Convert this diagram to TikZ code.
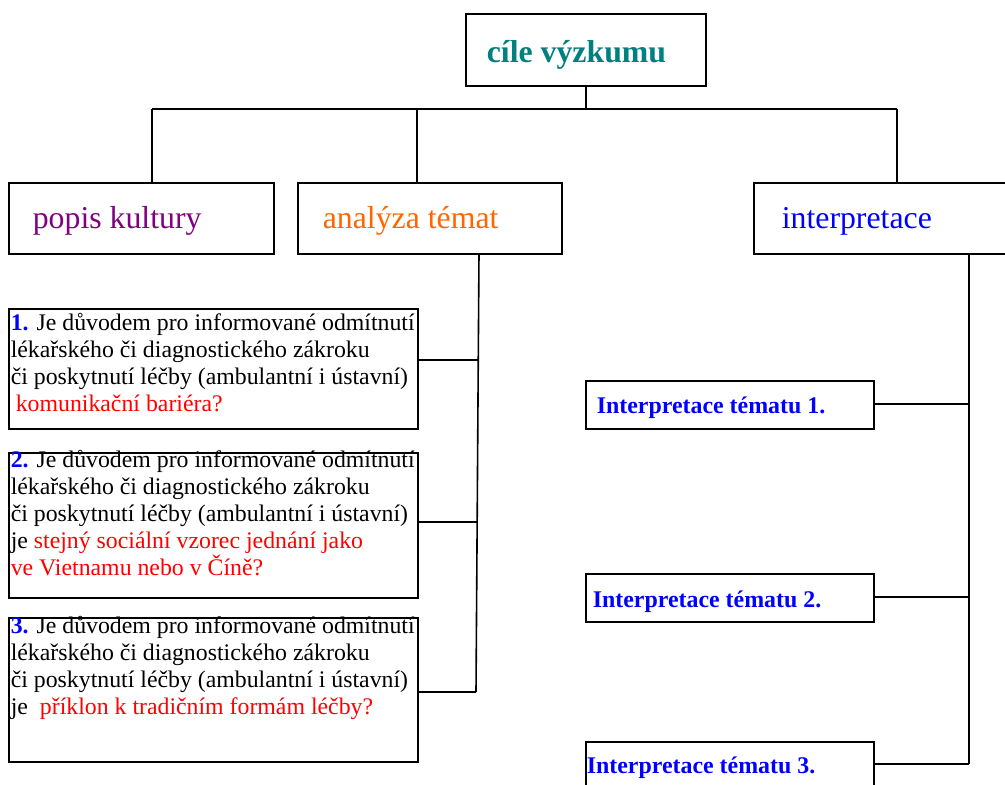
\documentclass[tikz,border=0pt]{standalone}
\usepackage{fontspec}
\setmainfont{Liberation Serif}
\usetikzlibrary{calc,positioning}

\definecolor{goalteal}{RGB}{0,128,128}
\definecolor{popispurple}{RGB}{128,0,128}
\definecolor{temaorange}{RGB}{255,102,0}
\newcommand{\qnum}[1]{\textcolor{blue}{\textbf{#1}}}
\newcommand{\qred}[1]{\textcolor{red}{#1}}

\begin{document}
\begin{tikzpicture}[
    x=1pt,y=-1pt,
    line width=1.6pt,
    box/.style={draw,anchor=north west,inner ysep=0pt,align=flush left},
    goalbox/.style={box,inner xsep=21pt,text width=198pt,text height=49pt,text depth=23pt,
      font=\fontsize{31.8pt}{38pt}\selectfont\bfseries,text=goalteal},
    headbox/.style={box,inner xsep=25pt,text height=46pt,text depth=25pt,
      font=\fontsize{31.8pt}{38pt}\selectfont},
    qbox/.style={box,inner xsep=2pt,text width=405pt,
      font=\fontsize{23.8pt}{26.8pt}\selectfont},
    ibox/.style={box,inner xsep=0pt,text width=288pt,
      font=\fontsize{23.9pt}{28pt}\selectfont\bfseries,text=blue},
  ]

  \useasboundingbox (0,0) rectangle (1005,785);

  \node (goal) at (465,13) [goalbox] {cíle výzkumu};

  \node (popis) at (8,182) [headbox,inner xsep=24pt,text width=217pt,text=popispurple] {popis kultury};
  \node (tema) at (297,182) [headbox,text width=214pt,text=temaorange] {analýza témat};
  \node (interp) at (753,182) [headbox,inner xsep=28pt,text width=204pt,text=blue] {interpretace};

  \coordinate (top-l) at (152,109);
  \coordinate (top-m) at (417,109);
  \coordinate (top-r) at (897,109);

  \draw (goal.south) -- (goal.south |- top-l);
  \draw (top-l) -- (top-r);
  \draw (top-l) -- (top-l |- popis.north);
  \draw (top-m) -- (top-m |- tema.north);
  \draw (top-r) -- (top-r |- interp.north);

  % otazky pod analyzou temat
  \node (q-1) at (8,308) [qbox,text height=22pt,text depth=98pt]
    {\mbox{\qnum{1.} Je důvodem pro informované odmítnutí}\\
     \mbox{lékařského či diagnostického zákroku}\\
     \mbox{či poskytnutí léčby (ambulantní i ústavní)}\\
     \mbox{\hspace*{5pt}\qred{komunikační bariéra?}}};
  \node (q-2) at (8,452) [qbox,text height=15pt,text depth=130pt]
    {\mbox{\qnum{2.} Je důvodem pro informované odmítnutí}\\
     \mbox{lékařského či diagnostického zákroku}\\
     \mbox{či poskytnutí léčby (ambulantní i ústavní)}\\
     \mbox{je \qred{stejný sociální vzorec jednání jako}}\\
     \mbox{\qred{ve Vietnamu nebo v Číně?}}};
  \node (q-3) at (8,617) [qbox,text height=16pt,text depth=128pt]
    {\mbox{\qnum{3.} Je důvodem pro informované odmítnutí}\\
     \mbox{lékařského či diagnostického zákroku}\\
     \mbox{či poskytnutí léčby (ambulantní i ústavní)}\\
     \mbox{je\hspace{12pt}\qred{příklon k tradičním formám léčby?}}};

  \coordinate (lt-0) at (479,253);
  \coordinate (lt-1) at (478.3,360);
  \coordinate (lt-2) at (477.2,522);
  \coordinate (lt-3) at (476,692);

  \draw (lt-0) -- (lt-3);
  \foreach \n in {1,...,3}
  {
    \draw (q-\n.east |- lt-\n) -- (lt-\n);
  }

  % interpretace temat
  \foreach \n/\y/\h/\d/\x in {1/380/33/15/11, 2/573/34/14/7, 3/741/32/20/1}
  {
    \node (i-\n) at (585,\y) [ibox,text height=\h pt,text depth=\d pt]
      {\hspace*{\x pt}Interpretace tématu \n.};
  }

  \coordinate (rt-1) at (969,404);
  \coordinate (rt-2) at (969,597);
  \coordinate (rt-3) at (969,764);

  \draw (interp.south -| rt-1) -- (rt-3);
  \foreach \n in {1,...,3}
  {
    \draw (i-\n.east |- rt-\n) -- (rt-\n);
  }

\end{tikzpicture}
\end{document}
